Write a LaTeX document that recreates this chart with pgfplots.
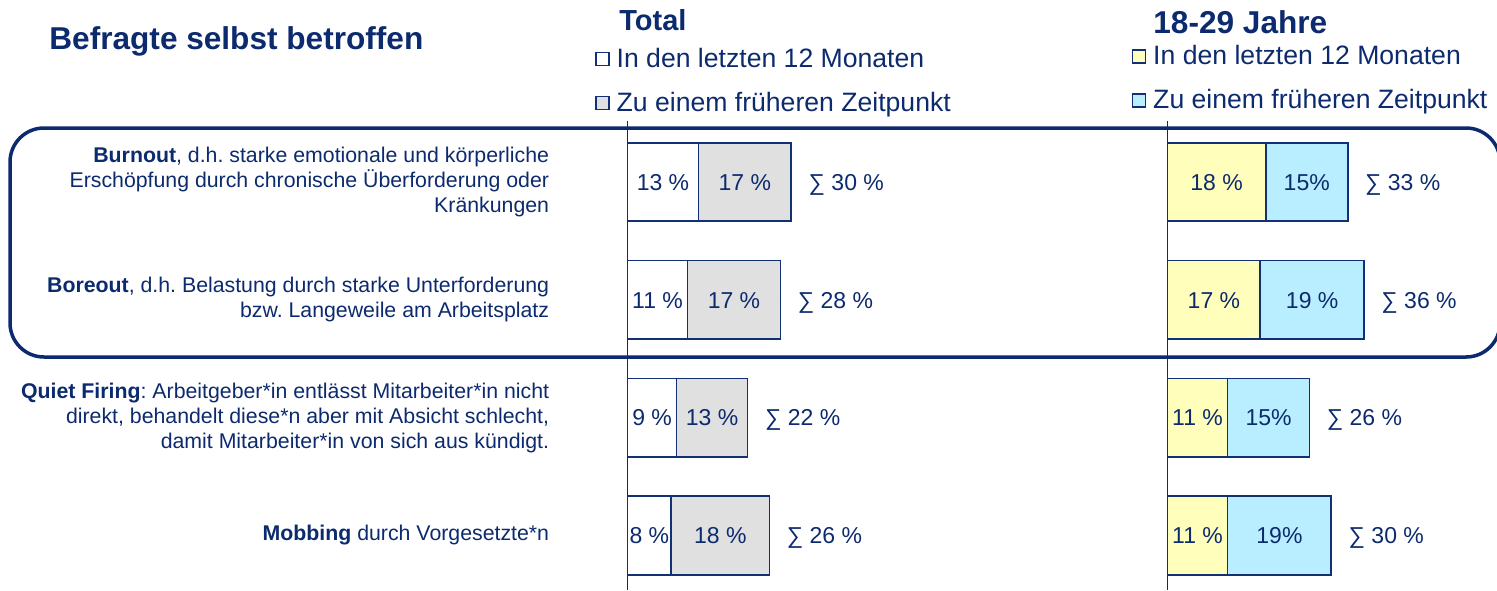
\documentclass[border=0pt]{standalone}
\usepackage{pgfplots}
\pgfplotsset{compat=1.18}
\usepackage{pgfplotstable}
\usepackage{fontspec}
\setmainfont{Liberation Sans}
\frenchspacing
\definecolor{navy}{RGB}{12,42,110}
\definecolor{barline}{RGB}{18,48,118}
\definecolor{greyfill}{RGB}{224,224,224}
\definecolor{yel}{RGB}{255,255,187}
\definecolor{cyanfill}{RGB}{184,238,255}

% y = bar centre, a = first segment, s = total (a + b), am / bm = centres of the two segments
\pgfplotstableread[col sep=comma]{
y,a,s,am,bm,alab,blab,slab
408,13,30,6.5,21.5,13 \%,17 \%,∑ 30 \%
290.2,11,28,5.5,19.5,11 \%,17 \%,∑ 28 \%
172.4,9,22,4.5,15.5,9 \%,13 \%,∑ 22 \%
54.6,8,26,4,17,8 \%,18 \%,∑ 26 \%
}\tabtotal

\pgfplotstableread[col sep=comma]{
y,a,s,am,bm,alab,blab,slab
408,18,33,9,25.5,18 \%,15\%,∑ 33 \%
290.2,17,36,8.5,26.5,17 \%,19 \%,∑ 36 \%
172.4,11,26,5.5,18.5,11 \%,15\%,∑ 26 \%
54.6,11,30,5.5,20.5,11 \%,19\%,∑ 30 \%
}\tabyoung

\pgfplotsset{
  panel/.style={
    x=2.73pt, y=0.5pt, xmin=0, xmax=45, ymin=0, ymax=469,
    anchor=south west, clip=false,
    axis x line=none, axis y line=left,
    y axis line style={-, draw=navy, line width=0.75pt},
    xtick=\empty, major tick length=0pt,
    legend image code/.code={\draw[##1, line width=0.6pt] (0pt,-2.75pt) rectangle (6.5pt,3.75pt);},
    legend cell align=left, reverse legend,
    legend style={anchor=north west, draw=none, fill=none, inner sep=0pt,
      font=\fontsize{13.3}{16}\selectfont, text=navy, row sep=9pt,
      nodes={inner sep=0pt, text height=10pt, text depth=3pt},
      /tikz/every odd column/.append style={column sep=3.5pt}},
  },
  barst/.style={xbar, bar width=39.25pt, bar shift=0pt, draw=barline, line width=0.85pt},
  labplot/.style={only marks, mark=*, mark size=0pt, mark options={draw=none, fill=none},
    forget plot, nodes near coords, point meta=explicit symbolic,
    every node near coord/.append style={font=\fontsize{11.5}{13.8}\selectfont, text=navy,
      anchor=base, inner sep=0pt, yshift=-4.1pt}},
}

\begin{document}
\begin{tikzpicture}
\useasboundingbox (0,0) rectangle (748.5pt,-295pt);
\draw[navy, line width=1.75pt, rounded corners=17pt] (5pt,-64pt) rectangle (750pt,-178.5pt);

\begin{axis}[panel, at={(313.75pt,-295pt)},
  ytick={54.6,172.4,290.2,408},
  yticklabels={{\textbf{Mobbing} durch Vorgesetzte*n},
    {\textbf{Quiet Firing}: Arbeitgeber*in entlässt Mitarbeiter*in nicht\\direkt, behandelt diese*n aber mit Absicht schlecht,\\damit Mitarbeiter*in von sich aus kündigt.},
    {\textbf{Boreout}, d.h. Belastung durch starke Unterforderung\\bzw. Langeweile am Arbeitsplatz},
    {\textbf{Burnout}, d.h. starke emotionale und körperliche\\Erschöpfung durch chronische Überforderung oder\\Kränkungen}},
  yticklabel style={align=right, anchor=east, inner sep=0pt, xshift=-39pt,
    font=\fontsize{10.65}{12.5}\selectfont, text=navy},
  legend style={at={(axis description cs:-0.132,1.158)}},
]
\addplot[barst, fill=greyfill] table[x=s, y=y]{\tabtotal};
\addlegendentry{Zu einem früheren Zeitpunkt}
\addplot[barst, fill=white] table[x=a, y=y]{\tabtotal};
\addlegendentry{In den letzten 12 Monaten}
\addplot[labplot] table[x=am, y=y, meta=alab]{\tabtotal};
\addplot[labplot] table[x=bm, y=y, meta=blab]{\tabtotal};
\addplot[labplot, every node near coord/.append style={anchor=base west, xshift=8.5pt}]
  table[x=s, y=y, meta=slab]{\tabtotal};
\end{axis}

\begin{axis}[panel, at={(583.75pt,-295pt)}, ytick=\empty,
  legend style={at={(axis description cs:-0.146,1.164)}},
]
\addplot[barst, fill=cyanfill] table[x=s, y=y]{\tabyoung};
\addlegendentry{Zu einem früheren Zeitpunkt}
\addplot[barst, fill=yel] table[x=a, y=y]{\tabyoung};
\addlegendentry{In den letzten 12 Monaten}
\addplot[labplot] table[x=am, y=y, meta=alab]{\tabyoung};
\addplot[labplot] table[x=bm, y=y, meta=blab]{\tabyoung};
\addplot[labplot, every node near coord/.append style={anchor=base west, xshift=8.5pt}]
  table[x=s, y=y, meta=slab]{\tabyoung};
\end{axis}

\node[anchor=base west, inner sep=0pt, text=navy, font=\fontsize{15.8}{19}\selectfont\bfseries] at (24.5pt,-24.5pt) {Befragte selbst betroffen};
\node[anchor=base west, inner sep=0pt, text=navy, font=\fontsize{14.5}{17}\selectfont\bfseries] at (309.5pt,-15pt) {Total};
\node[anchor=base west, inner sep=0pt, text=navy, font=\fontsize{15.8}{19}\selectfont\bfseries] at (576.5pt,-16.5pt) {18-29 Jahre};
\end{tikzpicture}
\end{document}
